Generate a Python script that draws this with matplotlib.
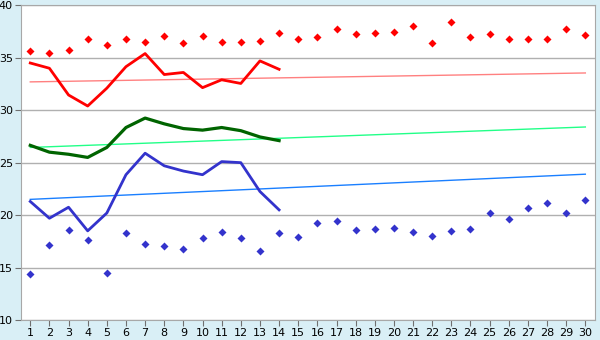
import numpy as np
import matplotlib.pyplot as plt

days = list(range(1, 31))
line_days = list(range(1, 15))

red_dots = [35.6, 35.5, 35.7, 36.8, 36.2, 36.8, 36.5, 37.05, 36.4, 37.05,
            36.5, 36.5, 36.55, 37.4, 36.75, 36.95, 37.7, 37.25, 37.4, 37.5,
            38.0, 36.4, 38.4, 36.95, 37.25, 36.75, 36.75, 36.75, 37.7, 37.15]
red_line = [34.5, 34.0, 31.45, 30.4, 32.1, 34.15, 35.4, 33.4, 33.6, 32.15,
            32.9, 32.55, 34.7, 33.9]
green_line = [26.65, 26.0, 25.8, 25.5, 26.45, 28.35, 29.25, 28.7, 28.25, 28.1,
              28.35, 28.05, 27.45, 27.1]
blue_line = [21.3, 19.7, 20.75, 18.5, 20.2, 23.85, 25.9, 24.7, 24.2, 23.85,
             25.1, 25.0, 22.25, 20.5]
blue_dots = [14.4, 17.15, 18.55, 17.6, 14.5, 18.3, 17.25, 17.05, 16.75, 17.8,
             18.4, 17.8, 16.55, 18.3, 17.9, 19.25, 19.45, 18.55, 18.65, 18.75,
             18.4, 18.0, 18.5, 18.65, 20.2, 19.6, 20.65, 21.15, 20.2, 21.45]

# trend lines (start / end values over days 1..30)
red_trend = [32.7, 33.55]
green_trend = [26.45, 28.4]
blue_trend = [21.5, 23.9]

bg = '#d9eff6'
fig = plt.figure(figsize=(6, 3.4), dpi=100, facecolor=bg)
ax = fig.add_axes([0.0345, 0.0588, 0.957, 0.9256])
ax.set_facecolor('white')

ax.plot(days, np.linspace(red_trend[0], red_trend[1], len(days)), color='#ff8080', lw=1)
ax.plot(days, np.linspace(green_trend[0], green_trend[1], len(days)), color='#22ff88', lw=1)
ax.plot(days, np.linspace(blue_trend[0], blue_trend[1], len(days)), color='#1a7fff', lw=1)

ax.plot(line_days, red_line, color='#ff0000', lw=2)
ax.plot(line_days, green_line, color='#006400', lw=2.3)
ax.plot(line_days, blue_line, color='#3333cc', lw=2)

ax.plot(days, red_dots, 'D', color='#ff0000', ms=4.3, mec='none')
ax.plot(days, blue_dots, 'D', color='#3333cc', ms=4.3, mec='none')

ax.set_xlim(0.5, 30.5)
ax.set_ylim(10, 40)
ax.set_xticks(days)
ax.set_yticks(range(10, 41, 5))
ax.yaxis.grid(True, color='#b0b0b0', lw=1)
ax.set_axisbelow(True)
for s in ax.spines.values():
    s.set_color('#a8a8a8')
ax.tick_params(colors='#000000', labelsize=8, length=4, color='#707070', pad=1.5)

fig.savefig('out.png', dpi=100, facecolor=bg)
